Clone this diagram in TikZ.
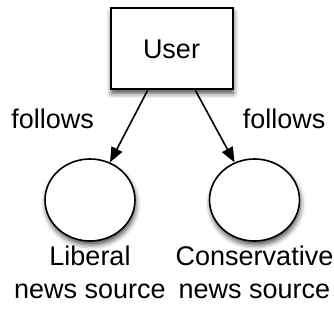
\documentclass[tikz,border=0pt]{standalone}
\usepackage{fontspec}
\setmainfont{Liberation Sans}
\usetikzlibrary{positioning, shapes.geometric, arrows.meta, shadows.blur}

\tikzset{
    shadowed/.style={draw, fill=white, blur shadow={shadow xshift=1pt, shadow yshift=-4pt, shadow blur radius=5pt, shadow opacity=70}},
    source/.style={shadowed, ellipse, minimum width=90pt, minimum height=82pt},
    caption/.style={align=center, inner sep=0pt}
}

\begin{document}
\begin{tikzpicture}[x=1pt, y=-1pt, node distance=3pt, line width=1.6pt, ->, >={Triangle[length=15pt, width=12pt]}]
    \fontsize{27}{33}\selectfont
    \useasboundingbox (0,0) rectangle (334,320);
    \node [shadowed, line width=2pt, minimum width=122pt, minimum height=81pt] (user) at (171.5,49) {User};
    \node [source] (lib) at (90,200) {};
    \node [source] (cons) at (254.5,200) {};
    \node [caption, below=of lib] (libname) {Liberal\\news source};
    \node [caption, below=of cons] (consname) {Conservative\\news source};
    \path (user.-120) edge node[anchor=base east, inner sep=0pt, xshift=-34pt, yshift=-2pt] {follows} (lib.62);
    \path (user.-60) edge node[anchor=base west, inner sep=0pt, xshift=27pt, yshift=-2pt] {follows} (cons.118);
\end{tikzpicture}
\end{document}
